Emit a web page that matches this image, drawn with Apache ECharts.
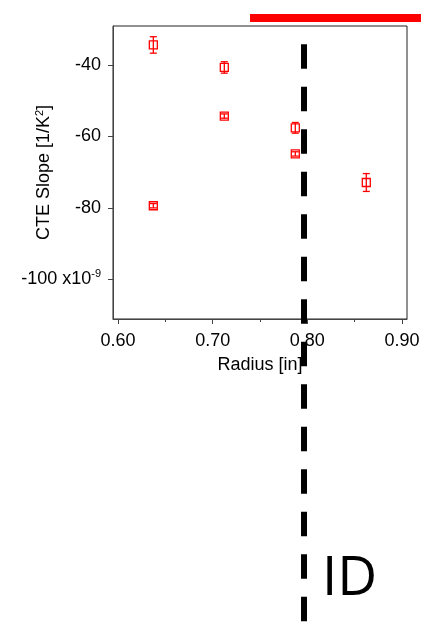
<!DOCTYPE html>
<html>
<head>
<meta charset="utf-8">
<script src="https://cdn.jsdelivr.net/npm/echarts@6/dist/echarts.min.js"></script>
<style>
html,body{margin:0;padding:0;background:#fff;}
#c{width:421px;height:624px;}
</style>
</head>
<body>
<div id="c"></div>
<script>
// Data
var radius = [0.6373, 0.7123, 0.7123, 0.7873, 0.7873, 0.8623, 0.6373];
var cteSlope = [-34.4, -40.7, -54.3, -57.6, -64.9, -72.9, -79.4];
var cteErr = [2.3, 1.6, 0.6, 1.5, 0.6, 2.5, 0.6];
var xTicks = [0.60, 0.70, 0.80, 0.90];
var xMinorTicks = [0.65, 0.75, 0.85];
var yTicks = [-40, -60, -80, -100];
var idLineX = 0.7965;
var idLabel = 'ID';

var FONT = '"Liberation Sans", Arial, sans-serif';

var scatterData = radius.map(function (r, i) { return [r, cteSlope[i]]; });
var errData = radius.map(function (r, i) { return [r, cteSlope[i] - cteErr[i], cteSlope[i] + cteErr[i]]; });

var chart = echarts.init(document.getElementById('c'), null, {renderer: 'canvas'});

var xMin = 0.5947, xMax = 0.9053, yMin = -111.1, yMax = -29.1;

var option = {
  animation: false,
  backgroundColor: '#fff',
  grid: {left: 113, right: 14, top: 26, bottom: 305, containLabel: false, outerBoundsMode: 'none',
    show: true, borderColor: '#222', borderWidth: 1, backgroundColor: 'transparent'},
  xAxis: [{
    type: 'value', min: xMin, max: xMax, position: 'bottom',
    splitLine: {show: false},
    axisLine: {show: true, onZero: false, lineStyle: {color: '#444', width: 1}},
    axisTick: {show: true, length: 5, customValues: xTicks, lineStyle: {color: '#444'}},
    axisLabel: {customValues: xTicks, margin: 13, color: '#000', fontSize: 18, fontFamily: FONT,
      formatter: function (v) { return v.toFixed(2); }},
    name: 'Radius [in]', nameLocation: 'middle', nameGap: 37, nameMoveOverlap: false,
    nameTextStyle: {color: '#000', fontSize: 18, fontFamily: FONT}
  }, {
    type: 'value', min: xMin, max: xMax, position: 'bottom', gridIndex: 0,
    splitLine: {show: false},
    axisLine: {show: false, onZero: false},
    axisTick: {show: true, length: 3, customValues: xMinorTicks, lineStyle: {color: '#444'}},
    axisLabel: {show: false}
  }],
  yAxis: {
    type: 'value', min: yMin, max: yMax,
    splitLine: {show: false},
    axisLine: {show: true, onZero: false, lineStyle: {color: '#444', width: 1}},
    axisTick: {show: true, length: 5, customValues: yTicks, lineStyle: {color: '#444'}},
    axisLabel: {customValues: yTicks, margin: 12, color: '#000', fontSize: 18, fontFamily: FONT,
      formatter: function (v) { return v === -100 ? '-100 x10{sup|-9}' : String(v); },
      rich: {sup: {fontSize: 11, fontFamily: FONT, color: '#000', verticalAlign: 'top', padding: [0, 0, 10, 0]}}
    },
    name: 'CTE Slope [1/K{sup|2}]', nameLocation: 'middle', nameGap: 58, nameRotate: 90, nameMoveOverlap: false,
    nameTextStyle: {color: '#000', fontSize: 18, fontFamily: FONT,
      rich: {sup: {fontSize: 11, fontFamily: FONT, color: '#000', padding: [0, 0, 10, 0]}}}
  },
  series: [{
    type: 'custom',
    data: errData,
    z: 3,
    renderItem: function (params, api) {
      var x = api.value(0);
      var lo = api.coord([x, api.value(1)]);
      var hi = api.coord([x, api.value(2)]);
      var cw = 3.5;
      var st = {stroke: '#f00', lineWidth: 1.3, fill: null};
      return {type: 'group', children: [
        {type: 'line', shape: {x1: lo[0], y1: lo[1], x2: hi[0], y2: hi[1]}, style: st},
        {type: 'line', shape: {x1: lo[0] - cw, y1: lo[1], x2: lo[0] + cw, y2: lo[1]}, style: st},
        {type: 'line', shape: {x1: hi[0] - cw, y1: hi[1], x2: hi[0] + cw, y2: hi[1]}, style: st}
      ]};
    }
  }, {
    type: 'scatter',
    data: scatterData,
    symbol: 'rect', symbolSize: 8,
    z: 4,
    itemStyle: {color: 'rgba(0,0,0,0)', borderColor: '#f00', borderWidth: 1.3, opacity: 1}
  }]
};
chart.setOption(option);

var lx = chart.convertToPixel({xAxisIndex: 0}, idLineX);
chart.setOption({
  graphic: [
    {type: 'rect', shape: {x: 250, y: 14, width: 175, height: 8}, style: {fill: '#f00'}, z: 10},
    {type: 'line', shape: {x1: lx, y1: 44.3, x2: lx, y2: 640}, style: {stroke: '#000', lineWidth: 6, lineDash: [24.5, 18]}, z: 10},
    {type: 'text', x: 322, y: 579, style: {text: idLabel, fill: '#000', font: '55px "Open Sans", sans-serif', verticalAlign: 'middle', align: 'left'}, z: 10}
  ]
});
</script>
</body>
</html>
